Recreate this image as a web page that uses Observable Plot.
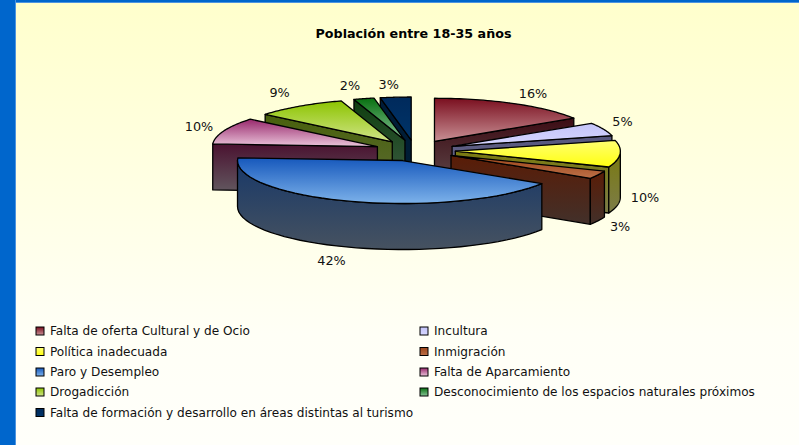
<!DOCTYPE html>
<html><head><meta charset="utf-8">
<script src="https://cdn.jsdelivr.net/npm/d3@7"></script>
<script src="https://cdn.jsdelivr.net/npm/@observablehq/plot@0.6"></script>
<style>
html,body{margin:0;padding:0;overflow:hidden;background:#fff}
#page{position:relative;width:799px;height:445px;background:linear-gradient(#ffffcc 0,#fffff6 75%,#fffffa 100%)}
#band-left{position:absolute;left:0;top:0;width:15px;height:445px;background:#0066cc;border-right:1px solid #4d94e0}
#band-top{position:absolute;left:0;top:0;width:799px;height:2px;background:#0066cc;border-bottom:1px solid #4d94e0}
#chart{position:absolute;left:0;top:0}
</style></head><body>
<div id="page"><div id="band-top"></div><div id="band-left"></div><div id="chart"></div></div>
<script>
const title = "Población entre 18-35 años";
const categories = ["Falta de oferta Cultural y de Ocio","Incultura","Política inadecuada","Inmigración","Paro y Desempleo","Falta de Aparcamiento","Drogadicción","Desconocimiento de los espacios naturales próximos","Falta de formación y desarrollo en áreas distintas al turismo"];
const values = [16,5,10,3,42,10,9,2,3];
const topColors = [["#7a0f1f","#c88f94"],["#c4c4f8","#d6d6ff"],["#ffff70","#ffff10"],["#9c4418","#bc7048"],["#1658bc","#7db2ea"],["#98286c","#eac4da"],["#8cc400","#d0e488"],["#087010","#88c498"],["#002a5c","#003468"]];
const wallColors = [["#3c0c14","#604a4c"],["#55557c","#7a7a98"],["#7a7a10","#7c7c48"],["#5a1c06","#42302a"],["#183868","#465260"],["#4a1230","#625860"],["#48600c","#5c6c34"],["#0e3e0e","#3c5c44"],["#001c38","#001e34"]];
const labelOffsets = [[19,-10],[19,-7],[25,-2],[22,6],[-20,13],[-25,-4],[-20,-13],[-14,-13],[-7,-12]];

// layout of the tilted pie
const W = 799, H = 445;
const cx = 414.5, cy = 150, rx = 165, ry = 43, depth = 46, explode = 0.245;
const rad = d => d * Math.PI / 180;
const total = d3.sum(values);
const cum = d3.cumsum(values);
const slices = values.map((v, i) => {
  const a0 = (cum[i] - v) / total * 360, a1 = cum[i] / total * 360, mid = (a0 + a1) / 2;
  const ax = cx + explode * rx * Math.sin(rad(mid)), ay = cy - explode * ry * Math.cos(rad(mid));
  const at = a => ({x: ax + rx * Math.sin(rad(a)), y: ay - ry * Math.cos(rad(a))});
  return {i, a0, a1, mid, ax, ay, at};
});
const down = p => ({x: p.x, y: p.y + depth});
const arc = (s, a, b) => d3.range(0, 41).map(k => s.at(a + (b - a) * k / 40));
const close = ps => [...ps, ps[0]];
const poly = (ps, fill) => Plot.line(close(ps), {x: "x", y: "y", fill, stroke: "#000", strokeWidth: 1.3, strokeLinejoin: "round"});

function sliceMarks(s) {
  const out = [], wall = `url(#wall${s.i})`, top = `url(#top${s.i})`, apex = {x: s.ax, y: s.ay};
  const radial = a => { const e = s.at(a); out.push(poly([apex, e, down(e), down(apex)], wall)); };
  if (Math.sin(rad(s.a0)) < -1e-6) radial(s.a0);
  if (Math.sin(rad(s.a1)) > 1e-6) radial(s.a1);
  const lo = Math.max(s.a0, 90), hi = Math.min(s.a1, 270);
  if (hi > lo) { const p = arc(s, lo, hi); out.push(poly([...p, ...p.map(down).reverse()], wall)); }
  out.push(poly([apex, ...arc(s, s.a0, s.a1)], top));
  return out;
}

const drawOrder = [0,1,2,3,8,7,6,5,4];
const pieMarks = drawOrder.flatMap(i => sliceMarks(slices[i]));

const labels = slices.map((s, i) => {
  const e = s.at(s.mid), lower = Math.cos(rad(s.mid)) < 0 ? depth : 0;
  return {text: values[i] + "%", x: e.x + labelOffsets[i][0], y: e.y + lower + labelOffsets[i][1]};
});

const legendX = [36, 420], legendY = [331, 351.5, 372, 392, 412.5], legendOrder = [0,1,2,3,4,5,6,7,8];
const legend = legendOrder.map((c, k) => {
  const col = k === 8 ? 0 : k % 2, row = Math.floor(k / 2);
  return {c, name: categories[c], x: legendX[col], y: legendY[row]};
});

const fontFamily = "'DejaVu Sans', Verdana, sans-serif";
const svg = Plot.plot({
  width: W, height: H, margin: 0,
  x: {domain: [0, W], range: [0, W], axis: null},
  y: {domain: [0, H], range: [0, H], axis: null},
  style: {background: "transparent"},
  marks: [
    Plot.text([title], {x: () => 413, y: () => 33, text: d => d, fontFamily, fontSize: 12.7, fontWeight: "bold", fill: "#000"}),
    ...pieMarks,
    Plot.text(labels, {x: "x", y: "y", text: "text", fontFamily, fontSize: 12.8, fill: "#111"}),
    ...legend.map(l => Plot.rect([l], {x1: d => d.x, x2: d => d.x + 8, y1: d => d.y - 4, y2: d => d.y + 4, fill: `url(#top${l.c})`, stroke: "#000", strokeWidth: 1})),
    Plot.text(legend, {x: d => d.x + 13.5, y: "y", text: "name", textAnchor: "start", fontFamily, fontSize: 12.1, fill: "#111"})
  ]
});
const defs = d3.select(svg).insert("defs", ":first-child");
const grad = (id, [a, b]) => {
  const g = defs.append("linearGradient").attr("id", id).attr("x1", 0).attr("y1", 0).attr("x2", 0).attr("y2", 1);
  g.append("stop").attr("offset", 0).attr("stop-color", a);
  g.append("stop").attr("offset", 1).attr("stop-color", b);
};
topColors.forEach((c, i) => grad("top" + i, c));
wallColors.forEach((c, i) => grad("wall" + i, c));
document.getElementById("chart").append(svg);
</script>
</body></html>
